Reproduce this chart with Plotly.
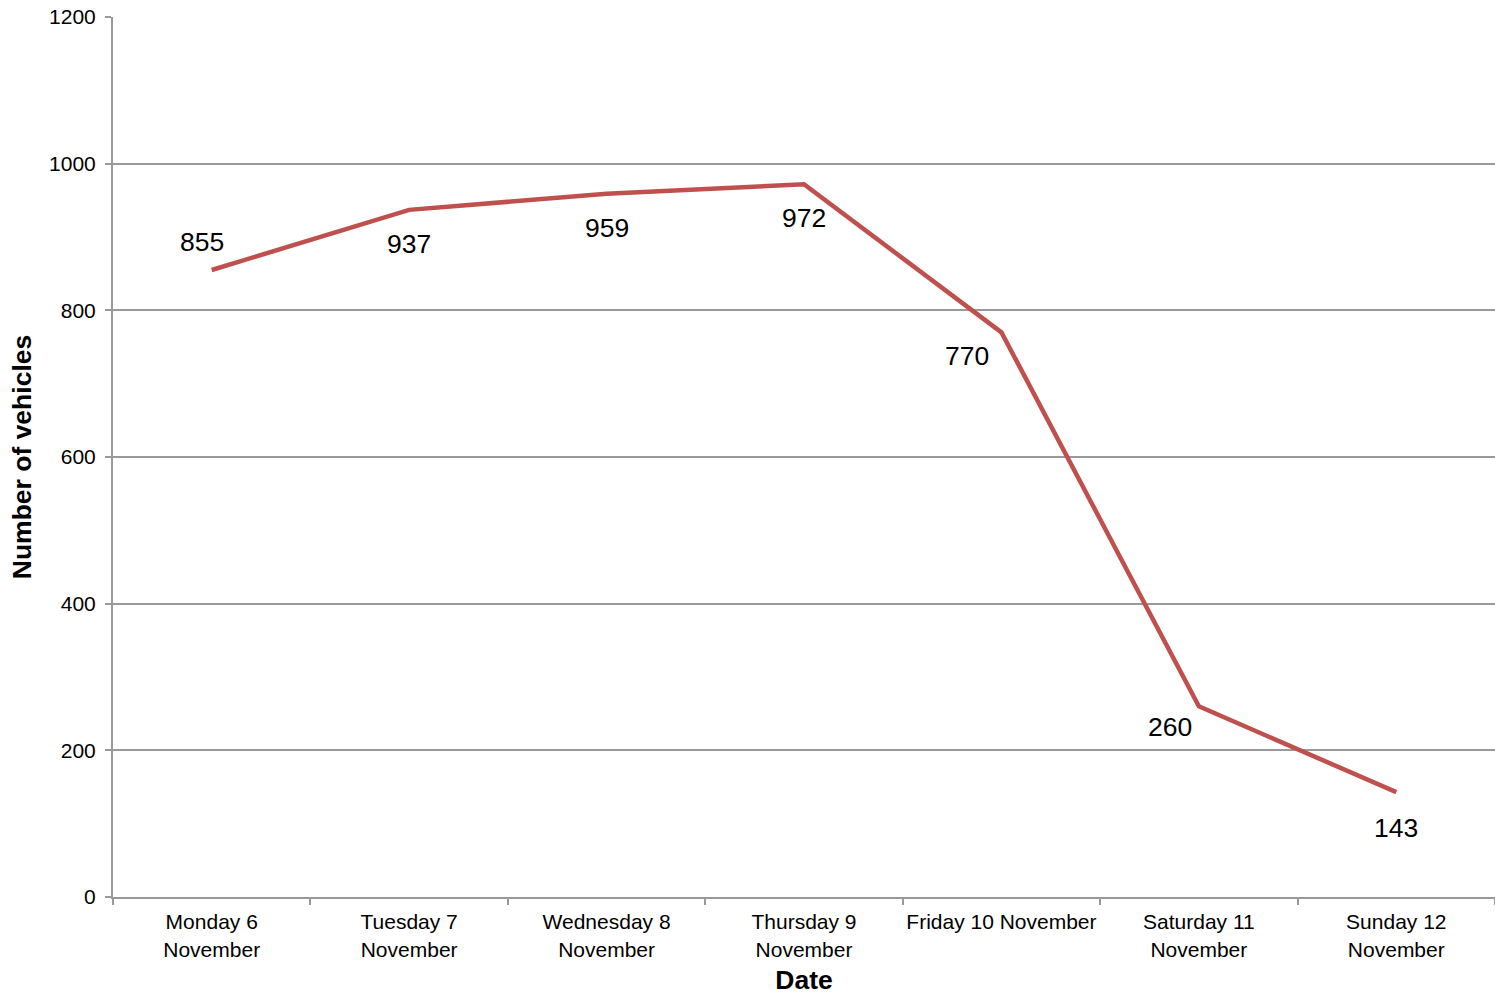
import plotly.graph_objects as go

dates = ["Monday 6<br>November", "Tuesday 7<br>November", "Wednesday 8<br>November",
         "Thursday 9<br>November", "Friday 10 November", "Saturday 11<br>November",
         "Sunday 12<br>November"]
vehicles = [855, 937, 959, 972, 770, 260, 143]
y_ticks = [0, 200, 400, 600, 800, 1000, 1200]

# label offsets (pixels) for data labels: style only
label_dx = [-10, 0, 0, 0, -34, -29, 0]
label_dy = [28, -34, -34, -34, -24, -21, -36]

fig = go.Figure()
fig.add_trace(go.Scatter(
    x=dates, y=vehicles, mode="lines",
    line=dict(color="#C0504D", width=4.5),
    hoverinfo="x+y", showlegend=False,
))

for d, v, dx, dy in zip(dates, vehicles, label_dx, label_dy):
    fig.add_annotation(x=d, y=v, text=str(v), showarrow=False,
                       xshift=dx, yshift=dy,
                       font=dict(family="Liberation Sans, Arial", size=26.5, color="black"))

fig.update_layout(
    width=1495, height=995,
    margin=dict(l=113, r=0, t=17, b=98),
    paper_bgcolor="white", plot_bgcolor="white",
    font=dict(family="Liberation Sans, Arial", size=21, color="black"),
    xaxis=dict(
        type="category",
        showline=True, linecolor="#999999", linewidth=2,
        ticks="outside", tickson="boundaries", ticklen=6, tickcolor="#999999", tickwidth=2,
        showgrid=False, tickfont=dict(size=21), ticklabelstandoff=5, tickangle=0,
        title=dict(text="<b>Date</b>", font=dict(size=26.5), standoff=16),
        range=[-0.5, 6.5], automargin=False,
    ),
    yaxis=dict(
        range=[0, 1200], tickvals=y_ticks,
        showline=True, linecolor="#999999", linewidth=2,
        ticks="outside", ticklen=6, tickcolor="#999999", tickwidth=2,
        showgrid=True, gridcolor="#999999", gridwidth=2,
        zeroline=False, tickfont=dict(size=21), ticklabelstandoff=5,
        title=dict(text="<b>Number of vehicles</b>", font=dict(size=26.5), standoff=10),
        automargin=False,
    ),
)

fig.write_html("out.html")
